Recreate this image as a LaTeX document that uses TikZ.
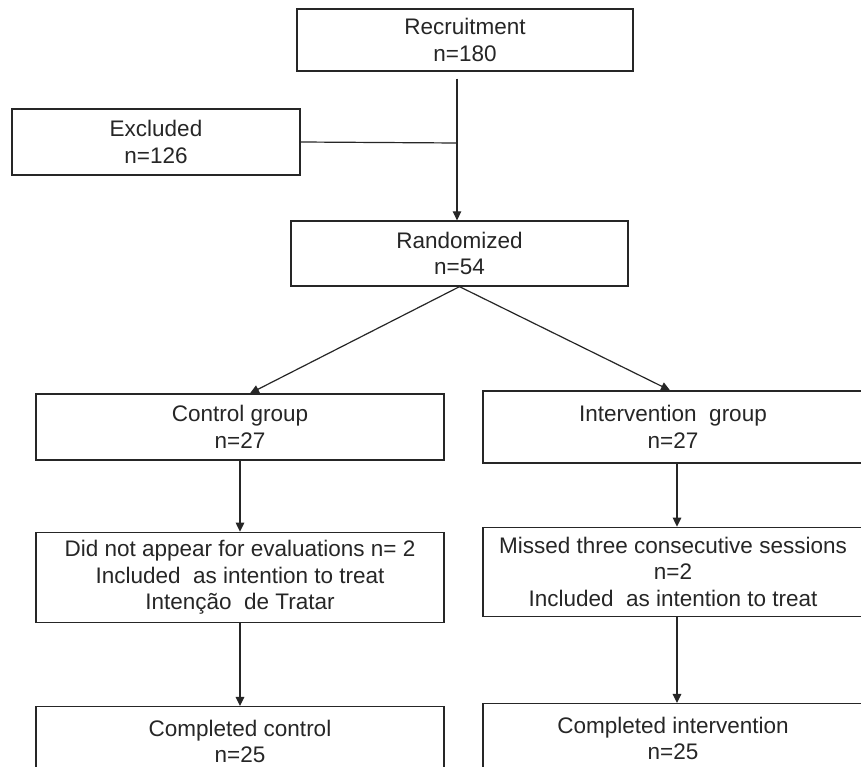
\documentclass[tikz,border=0pt]{standalone}
\usepackage{fontspec}
\setmainfont{Liberation Sans}
\usetikzlibrary{positioning,arrows.meta}
\definecolor{ink}{HTML}{262626}

\begin{document}
\begin{tikzpicture}[
  x=1pt, y=-1pt,
  node distance=70pt,
  box/.style={draw=ink, text=ink, line width=1.3pt, align=center,
              font=\fontsize{22.5}{26.5}\selectfont, inner sep=0pt},
  arr/.style={-{Triangle[length=9pt,width=8.5pt]}, line width=1.2pt, draw=ink},
  link/.style={line width=1.2pt, draw=ink}
]
\useasboundingbox[fill=white] (0,0) rectangle (861,767);
\node[box, minimum width=336pt, minimum height=62pt] (recr) at (465,40) {Recruitment\\n=180};
\node[box, minimum width=288pt, minimum height=66pt] (excl) at (156,142) {Excluded\\n=126};
\node[box, minimum width=337pt, minimum height=65pt] (rand) at (459.5,253.5) {Randomized\\n=54};
\node[box, minimum width=408pt, minimum height=66pt] (ctrl) at (240,427) {Control group\\n=27};
\node[box, minimum width=380pt, minimum height=72pt] (intv) at (673,427) {Intervention~ group\\n=27};
\node[box, minimum width=408pt, minimum height=90pt, below=71pt of ctrl] (dnap)
  {Did not appear for evaluations n= 2\\Included~ as intention to treat\\Intenção~ de Tratar};
\node[box, minimum width=380pt, minimum height=89pt, below=63pt of intv] (miss)
  {Missed three consecutive sessions\\n=2\\Included~ as intention to treat};
\node[box, minimum width=408pt, minimum height=70pt, below=83pt of dnap] (cctl) {Completed control\\n=25};
\node[box, minimum width=380pt, minimum height=70pt, below=86pt of miss] (cint) {Completed intervention\\n=25};
\coordinate (split) at (457,143);
\draw[arr] ([yshift=-7pt]recr.south -| split) -- (split |- rand.north);
\draw[link] (excl.east) -- (split);
\draw[arr] (rand.south) -- ([xshift=10pt]ctrl.north);
\draw[arr] (rand.south) -- ([xshift=-3pt]intv.north);
\draw[arr] (ctrl) -- (dnap);
\draw[arr] (dnap) -- (cctl);
\draw[arr] ([xshift=4pt]intv.south) -- ([xshift=4pt]miss.north);
\draw[arr] ([xshift=4pt]miss.south) -- ([xshift=4pt]cint.north);
\end{tikzpicture}
\end{document}
